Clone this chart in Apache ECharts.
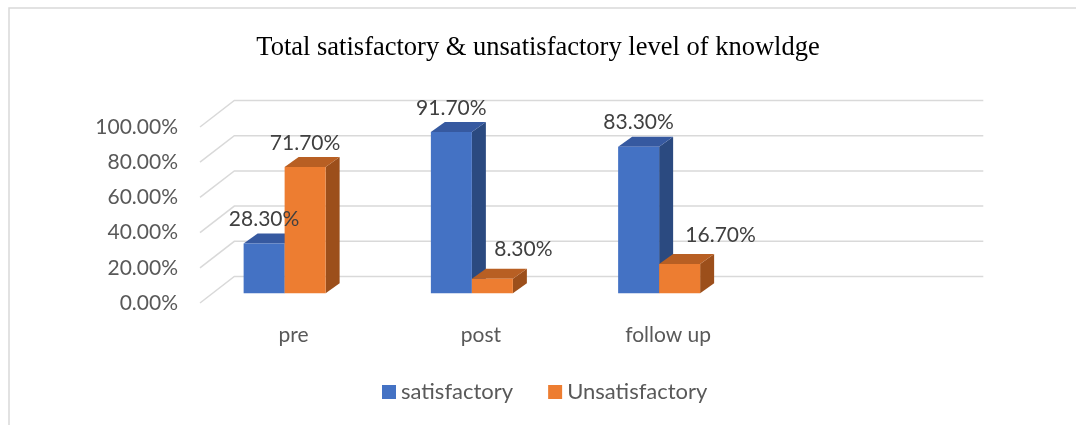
<!DOCTYPE html>
<html>
<head>
<meta charset="utf-8">
<script src="https://cdn.jsdelivr.net/npm/echarts@6/dist/echarts.min.js"></script>
<style>
  html, body { margin: 0; padding: 0; background: #fff; }
  #chart { width: 1076px; height: 425px; }
</style>
</head>
<body>
<div id="chart"></div>
<script>
  const categories = ['pre', 'post', 'follow up', '']
  const satisfactory = [0.283, 0.917, 0.833]
  const unsatisfactory = [0.717, 0.083, 0.167]
  const yTicks = [0, 0.2, 0.4, 0.6, 0.8, 1]

  const pct = v => (v * 100).toFixed(2) + '%'
  const textFont = 'Lato, "Open Sans", sans-serif'

  // oblique "3D" offsets, in pixels
  const wallDx = 34.3, wallDy = -26.5
  const barDx = 14, barDy = -10
  const barW = 41, barShiftX = -9, barShiftY = -9.7
  // a couple of labels were moved by hand in the original
  const labelNudge = { '1-1': [31, -5], '1-2': [41, -5] }

  const faces = [
    { front: '#4472C4', top: '#3659A0', side: '#2B4A80' },
    { front: '#ED7D31', top: '#B85F23', side: '#9C4F1B' }
  ]

  const chart = echarts.init(document.getElementById('chart'))

  function gridRender (params, api) {
    const cs = params.coordSys
    const y = api.coord([0, api.value(1)])[1]
    return {
      type: 'polyline',
      shape: {
        points: [
          [cs.x, y],
          [cs.x + wallDx, y + wallDy],
          [cs.x + cs.width + wallDx, y + wallDy]
        ]
      },
      style: { stroke: '#D9D9D9', lineWidth: 1.5, fill: null },
      silent: true
    }
  }

  function barBox (sIdx, api) {
    const cat = api.value(0)
    const base = api.coord([cat, 0])
    const top = api.coord([cat, api.value(1)])
    const x0 = base[0] + barShiftX + (sIdx === 0 ? -barW : 0)
    return { cat, x0, x1: x0 + barW, yb: base[1] + barShiftY, yt: top[1] + barShiftY }
  }

  function barRender (sIdx) {
    return function (params, api) {
      const b = barBox(sIdx, api)
      const c = faces[sIdx]
      return {
        type: 'group',
        children: [
          {
            type: 'polygon',
            shape: { points: [[b.x1, b.yt], [b.x1 + barDx, b.yt + barDy], [b.x1 + barDx, b.yb + barDy], [b.x1, b.yb]] },
            style: { fill: c.side }
          },
          {
            type: 'polygon',
            shape: { points: [[b.x0, b.yt], [b.x0 + barDx, b.yt + barDy], [b.x1 + barDx, b.yt + barDy], [b.x1, b.yt]] },
            style: { fill: c.top }
          },
          {
            type: 'rect',
            shape: { x: b.x0, y: b.yt, width: barW, height: b.yb - b.yt },
            style: { fill: c.front }
          }
        ]
      }
    }
  }

  function labelRender (sIdx) {
    return function (params, api) {
      const b = barBox(sIdx, api)
      const nudge = labelNudge[sIdx + '-' + b.cat] || [0, 0]
      return {
        type: 'text',
        style: {
          text: pct(api.value(1)),
          x: (b.x0 + b.x1) / 2 + nudge[0],
          y: b.yt + barDy - 14 + nudge[1],
          align: 'center',
          verticalAlign: 'middle',
          fill: '#404040',
          fontSize: 21,
          fontFamily: textFont
        }
      }
    }
  }

  const satData = satisfactory.map((v, i) => [i, v])
  const unsatData = unsatisfactory.map((v, i) => [i, v])

  chart.setOption({
    animation: false,
    backgroundColor: '#fff',
    graphic: [{
      type: 'rect',
      shape: { x: 9, y: 8, width: 1100, height: 450 },
      style: { fill: null, stroke: '#D9D9D9', lineWidth: 1.5 },
      silent: true
    }],
    title: {
      text: 'Total satisfactory & unsatisfactory level of knowldge',
      left: 'center',
      top: 30,
      textStyle: {
        fontFamily: '"Liberation Serif", "Times New Roman", serif',
        fontWeight: 'normal',
        fontSize: 26.5,
        color: '#000'
      }
    },
    legend: {
      left: 382,
      top: 381,
      padding: 0,
      icon: 'rect',
      itemWidth: 14,
      itemHeight: 14,
      itemGap: 35,
      data: ['satisfactory', 'Unsatisfactory'],
      textStyle: { fontSize: 22, fontFamily: textFont, color: '#595959' }
    },
    grid: { left: 200, right: 127, top: 127, bottom: 122 },
    xAxis: {
      type: 'category',
      data: categories,
      axisLine: { show: false },
      axisTick: { show: false },
      axisLabel: { margin: 22, fontSize: 21, fontFamily: textFont, color: '#595959' }
    },
    yAxis: {
      type: 'value',
      min: 0,
      max: 1,
      interval: 0.2,
      splitLine: { show: false },
      axisLine: { show: false },
      axisTick: { show: false },
      axisLabel: { margin: 22, fontSize: 21, fontFamily: textFont, color: '#595959', formatter: pct }
    },
    series: [
      {
        name: 'gridlines',
        type: 'custom',
        renderItem: gridRender,
        data: yTicks.map(v => [0, v]),
        silent: true,
        z: 1
      },
      {
        name: 'satisfactory',
        type: 'custom',
        renderItem: barRender(0),
        itemStyle: { color: faces[0].front },
        data: satData,
        z: 2
      },
      {
        name: 'Unsatisfactory',
        type: 'custom',
        renderItem: barRender(1),
        itemStyle: { color: faces[1].front },
        data: unsatData,
        z: 3
      },
      {
        name: 'satisfactory',
        type: 'custom',
        renderItem: labelRender(0),
        data: satData,
        z: 5
      },
      {
        name: 'Unsatisfactory',
        type: 'custom',
        renderItem: labelRender(1),
        data: unsatData,
        z: 5
      }
    ]
  })
</script>
</body>
</html>
